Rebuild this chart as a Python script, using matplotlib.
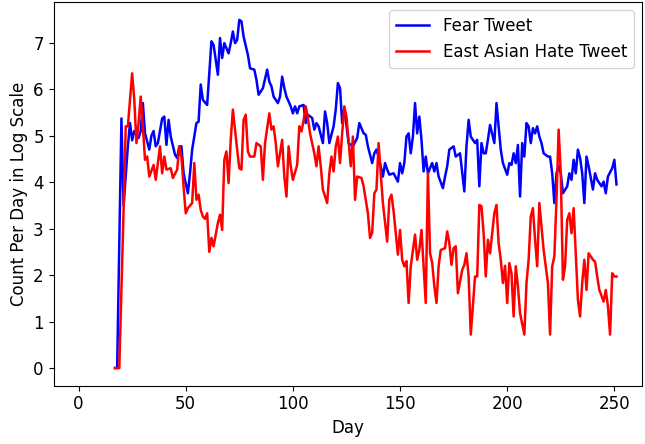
import matplotlib
matplotlib.use("Agg")
import matplotlib.pyplot as plt

fear_days = [17, 18, 20, 21, 23, 24, 25, 26, 28, 29, 30, 31, 33, 34, 35, 36, 37, 39, 40, 41,
             42, 43, 45, 46, 47, 48, 49, 51, 52, 53, 55, 56, 57, 58, 60, 62, 63, 65, 66, 67,
             68, 70, 71, 72, 73, 74, 75, 76, 77, 79, 80, 82, 83, 84, 86, 88, 89, 90, 91, 93,
             94, 95, 96, 97, 99, 100, 101, 102, 103, 105, 106, 107, 109, 110, 111, 112, 114, 115, 116, 117,
             119, 120, 121, 122, 123, 124, 126, 128, 130, 131, 132, 133, 134, 135, 137, 138, 139, 140, 142, 143,
             144, 145, 147, 149, 150, 151, 152, 153, 154, 155, 156, 157, 158, 159, 160, 161, 162, 163, 165, 166,
             167, 168, 170, 171, 172, 173, 175, 176, 178, 180, 181, 182, 183, 185, 186, 187, 188, 189, 190, 191,
             192, 194, 195, 197, 198, 200, 201, 202, 203, 204, 205, 206, 207, 208, 209, 210, 211, 212, 213, 214,
             215, 216, 217, 219, 220, 221, 222, 223, 224, 225, 226, 228, 229, 230, 231, 232, 233, 234, 235, 236,
             237, 238, 240, 241, 242, 243, 244, 245, 246, 247, 249, 250, 251]
fear_vals = [0, 0, 5.37, 3.5, 4.77, 5.27, 4.9, 5.1, 4.95, 5.1, 5.7, 5.05, 4.7, 5.0, 5.1, 4.77, 4.84, 5.37, 5.41, 4.8,
             5.34, 4.98, 4.59, 4.52, 4.77, 4.77, 4.19, 3.76, 4.19, 4.7, 5.27, 5.3, 6.1, 5.77, 5.66, 7.03, 6.95, 6.31, 7.1, 6.67,
             6.99, 6.77, 6.99, 7.24, 6.99, 7.06, 7.49, 7.46, 7.13, 6.74, 6.45, 6.42, 6.2, 5.88, 6.02, 6.42, 6.16, 6.06, 5.84, 5.7,
             5.84, 6.27, 6.02, 5.84, 5.63, 5.48, 5.63, 5.48, 5.63, 5.66, 5.27, 5.45, 5.38, 5.13, 5.27, 5.2, 4.84, 5.52, 5.27, 4.84,
             5.2, 5.56, 6.13, 6.02, 5.27, 5.59, 4.84, 4.77, 4.95, 5.27, 5.16, 5.05, 5.02, 4.77, 4.41, 4.62, 4.7, 4.55, 4.12, 4.41,
             4.27, 4.16, 4.19, 4.01, 4.41, 4.19, 4.41, 4.98, 5.05, 4.62, 4.98, 5.7, 5.05, 5.41, 4.91, 4.23, 4.55, 4.19, 4.41, 4.23,
             4.41, 4.12, 3.87, 4.12, 4.34, 4.7, 4.77, 4.55, 4.62, 3.8, 4.77, 5.34, 4.98, 4.84, 4.91, 3.91, 4.84, 4.62, 4.62, 4.91,
             5.23, 4.84, 5.7, 4.7, 4.41, 4.16, 4.41, 4.37, 4.62, 4.41, 4.8, 3.69, 4.84, 4.55, 5.27, 5.2, 4.84, 5.16, 5.05, 5.2,
             4.98, 4.84, 4.62, 4.55, 4.55, 4.19, 3.55, 4.19, 4.34, 4.19, 3.76, 3.91, 4.19, 4.05, 4.48, 4.19, 4.7, 4.52, 4.19, 3.55,
             4.55, 4.34, 3.84, 4.19, 4.05, 3.98, 3.91, 4.01, 3.76, 4.12, 4.3, 4.48, 3.95]

hate_days = [17, 18, 19, 21, 22, 23, 25, 26, 27, 28, 29, 30, 31, 32, 33, 35, 36, 38, 39, 40,
             41, 43, 44, 46, 47, 48, 49, 50, 51, 53, 54, 55, 56, 57, 58, 59, 60, 61, 62, 63,
             65, 66, 67, 68, 69, 70, 71, 72, 74, 75, 76, 77, 78, 79, 80, 82, 83, 85, 86, 87,
             89, 90, 91, 92, 93, 95, 96, 97, 98, 99, 100, 102, 103, 104, 105, 106, 107, 108, 110, 111,
             112, 113, 114, 116, 117, 118, 119, 120, 121, 122, 123, 124, 125, 127, 128, 129, 130, 132, 133, 135,
             136, 137, 138, 139, 140, 141, 142, 144, 145, 146, 147, 149, 150, 151, 152, 153, 154, 155, 157, 158,
             159, 160, 161, 162, 163, 164, 165, 166, 167, 168, 169, 171, 172, 173, 174, 175, 176, 177, 179, 180,
             181, 182, 183, 185, 186, 187, 188, 189, 190, 191, 192, 194, 195, 196, 197, 198, 199, 200, 201, 202,
             203, 204, 205, 206, 208, 209, 210, 211, 212, 213, 214, 215, 216, 217, 219, 220, 221, 222, 223, 224,
             225, 226, 227, 228, 229, 230, 231, 233, 234, 235, 236, 237, 238, 240, 241, 242, 243, 245, 246, 247,
             248, 249, 250, 251]
hate_vals = [0, 0, 0, 3.4, 5.2, 5.2, 6.34, 5.77, 4.84, 5.27, 5.84, 5.2, 4.48, 4.55, 4.12, 4.37, 4.05, 4.77, 4.19, 4.55,
             4.27, 4.3, 4.09, 4.27, 4.77, 4.55, 3.9, 3.33, 3.44, 3.55, 4.41, 3.62, 3.73, 3.4, 3.26, 3.21, 3.33, 2.5, 2.8, 2.62,
             3.12, 3.3, 2.97, 4.48, 4.66, 3.98, 4.91, 5.56, 4.7, 4.3, 4.27, 5.34, 5.45, 4.66, 4.55, 4.55, 4.84, 4.77, 4.05, 4.84,
             5.48, 5.13, 5.2, 4.84, 4.34, 4.91, 4.12, 3.69, 4.77, 4.34, 4.05, 4.37, 5.2, 5.09, 5.33, 5.63, 5.38, 5.05, 4.62, 4.34,
             4.77, 4.34, 3.84, 3.55, 4.19, 4.55, 4.23, 4.77, 4.98, 4.41, 5.05, 5.63, 5.41, 4.34, 4.98, 3.62, 4.12, 4.09, 3.91, 3.33,
             2.8, 2.91, 3.76, 3.84, 4.84, 4.19, 3.55, 2.72, 3.62, 3.73, 3.37, 2.44, 2.97, 2.33, 2.19, 2.3, 1.4, 2.19, 2.87, 2.33,
             2.54, 2.97, 2.19, 1.4, 4.19, 2.47, 2.26, 1.76, 1.4, 2.19, 2.54, 2.58, 2.94, 2.69, 2.22, 2.58, 2.62, 1.61, 2.11, 2.22,
             2.47, 1.97, 0.72, 1.97, 1.97, 3.51, 3.48, 2.9, 1.97, 2.76, 2.47, 3.33, 3.51, 2.69, 2.33, 1.83, 2.2, 1.4, 2.26, 2.04,
             1.11, 2.19, 1.76, 1.18, 0.72, 1.83, 2.33, 3.26, 3.44, 2.76, 2.19, 3.55, 3.05, 2.54, 1.83, 0.72, 2.19, 2.4, 3.62, 5.13,
             4.2, 1.9, 2.19, 3.19, 3.33, 2.9, 3.44, 1.47, 1.11, 1.83, 2.33, 1.68, 2.47, 2.33, 2.29, 1.97, 1.68, 1.43, 1.68, 1.33,
             0.72, 2.04, 1.97, 1.97]

series_labels = ["Fear Tweet", "East Asian Hate Tweet"]
x_label = "Day"
y_label = "Count Per Day in Log Scale"

fig = plt.figure(figsize=(6.45, 4.44), dpi=100)
ax = fig.add_axes([53.5 / 645, 1 - 385.5 / 444, (642 - 53.5) / 645, (385.5 - 2) / 444])
ax.plot(fear_days, fear_vals, color="#0000ff", lw=1.8, label=series_labels[0])
ax.plot(hate_days, hate_vals, color="#ff0000", lw=1.8, label=series_labels[1])
ax.set_xlim(-11.7, 262.9)
ax.set_ylim(-0.375, 7.875)
ax.set_xticks([0, 50, 100, 150, 200, 250])
ax.set_yticks(range(0, 8))
ax.tick_params(labelsize=12)
ax.set_xlabel(x_label, fontsize=12)
ax.set_ylabel(y_label, fontsize=12)
ax.legend(loc="upper right", fontsize=12)
fig.savefig("out.png", dpi=100)
